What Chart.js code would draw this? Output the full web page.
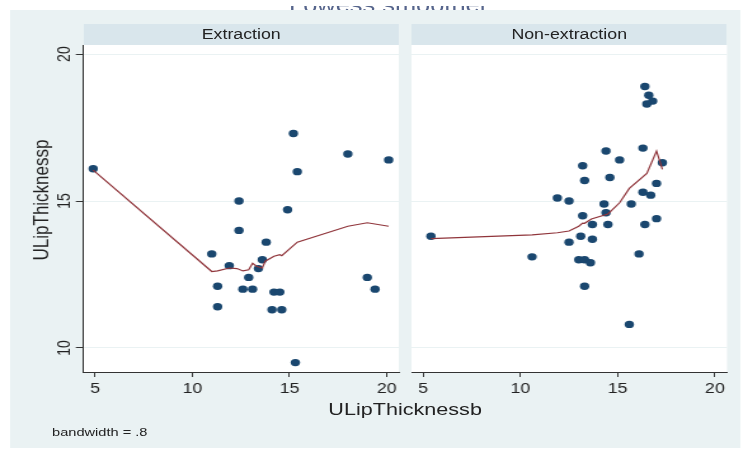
<!DOCTYPE html>
<html>
<head>
<meta charset="utf-8">
<script src="https://cdn.jsdelivr.net/npm/chart.js@4/dist/chart.umd.min.js"></script>
<style>
  html, body { margin: 0; padding: 0; background: #fff; }
  body { width: 741px; height: 450px; overflow: hidden; position: relative; font-family: "Liberation Sans", Arial, sans-serif; }
  /* the reference picture is stretched sideways, so the whole graph is drawn narrow and widened */
  #wrap { position: absolute; left: 0; top: 0; width: 584px; height: 450px; transform: scaleX(1.27); transform-origin: 0 0; }
  .abs { position: absolute; }
  /* only the lower edge of the title shows in the reference */
  #titleBox { left: 0; top: 6px; width: 600px; height: 4px; overflow: hidden; }
  #title { left: 0; width: 612px; top: -11px; text-align: center; font-size: 20px; line-height: 20px; color: #56658c; }
  #bg { left: 8px; top: 10px; width: 575px; height: 438px; background: #eaf2f3; }
  .strip { top: 24px; height: 21px; background: #d9e6ec; text-align: center; font-size: 14px; line-height: 21px; color: #222; }
  #xtitle { left: 219px; width: 200px; top: 400px; text-align: center; font-size: 17px; line-height: 20px; color: #222; }
  #note { left: 41px; top: 425px; font-size: 11.5px; line-height: 14px; color: #222; }
  canvas { position: absolute; }
</style>
</head>
<body>
<div id="wrap">
  <div id="titleBox" class="abs"><div id="title" class="abs">Lowess smoother</div></div>
  <div id="bg" class="abs"></div>
  <div id="strip0" class="abs strip" style="left:65.7px;width:248.5px;"></div>
  <div id="strip1" class="abs strip" style="left:324px;width:248.4px;"></div>
  <canvas id="left" width="318" height="400" style="left:0;top:41px;width:318px;height:400px;"></canvas>
  <canvas id="right" width="260" height="400" style="left:318px;top:41px;width:260px;height:400px;"></canvas>
  <div id="xtitle" class="abs">ULipThicknessb</div>
  <div id="note" class="abs">bandwidth = .8</div>
</div>
<script>
// panels
var panels = ["Extraction", "Non-extraction"];
var xTicks = [5, 10, 15, 20];
var yTicks = [10, 15, 20];
var yTitle = "ULipThicknessp";

// Extraction: points
var extrX = [4.9, 15.2, 18.0, 20.1, 15.4, 12.4, 14.9, 12.4, 13.8, 11.0, 13.6, 11.9, 13.4,
             12.9, 11.3, 12.6, 13.1, 14.2, 14.5, 19.0, 19.4, 11.3, 14.1, 14.6, 15.3];
var extrY = [16.1, 17.3, 16.6, 16.4, 16.0, 15.0, 14.7, 14.0, 13.6, 13.2, 13.0, 12.8, 12.7,
             12.4, 12.1, 12.0, 12.0, 11.9, 11.9, 12.4, 12.0, 11.4, 11.3, 11.3, 9.5];
// Extraction: lowess curve
var extrFitX = [4.9, 11.0, 11.3, 11.9, 12.3, 12.6, 12.9, 13.1, 13.3, 13.6, 13.75, 14.2, 14.5, 14.6, 15.4, 18.0, 19.0, 20.1];
var extrFitY = [16.05, 12.6, 12.62, 12.72, 12.7, 12.62, 12.66, 12.88, 12.78, 12.72, 12.95, 13.12, 13.17, 13.14, 13.6, 14.14, 14.26, 14.14];

// Non-extraction: points
var nonX = [5.4, 16.4, 16.6, 16.8, 16.5, 16.3, 14.4, 15.1, 17.3, 13.2, 13.3, 14.6, 17.0, 16.3, 16.7, 11.9, 12.5, 14.3,
            15.7, 14.4, 13.2, 13.7, 14.5, 16.4, 17.0, 13.1, 12.5, 13.7, 10.6, 13.0, 13.3, 13.6, 16.1, 13.3, 15.6];
var nonY = [13.8, 18.9, 18.6, 18.4, 18.3, 16.8, 16.7, 16.4, 16.3, 16.2, 15.7, 15.8, 15.6, 15.3, 15.2, 15.1, 15.0, 14.9,
            14.9, 14.6, 14.5, 14.2, 14.2, 14.2, 14.4, 13.8, 13.6, 13.7, 13.1, 13.0, 13.0, 12.9, 13.2, 12.1, 10.8];
// Non-extraction: lowess curve
var nonFitX = [5.4, 10.6, 11.9, 12.5, 13.0, 13.2, 13.3, 13.65, 14.5, 15.1, 15.6, 16.5, 17.0, 17.3];
var nonFitY = [13.72, 13.85, 13.92, 13.98, 14.14, 14.25, 14.24, 14.39, 14.56, 14.94, 15.43, 15.94, 16.7, 16.08];

var FONT = '"Liberation Sans", Arial, sans-serif';
var navy = "#1a476f";
var maroon = "#90353b";

document.getElementById("strip0").textContent = panels[0];
document.getElementById("strip1").textContent = panels[1];

function pts(xs, ys) {
    return xs.map(function (x, i) { return {x: x, y: ys[i]}; });
}

// white plot region
var plotBg = {
    id: "plotBg",
    beforeDraw: function (chart) {
        var a = chart.chartArea, ctx = chart.ctx;
        ctx.save();
        ctx.fillStyle = "#fff";
        ctx.fillRect(a.left, a.top, a.right - a.left, a.bottom - a.top);
        ctx.restore();
    }
};

// Stata-style vertical y labels and title
var yLabels = {
    id: "yLabels",
    afterDraw: function (chart) {
        var ctx = chart.ctx, sc = chart.scales.y;
        ctx.save();
        ctx.fillStyle = "#222";
        ctx.textAlign = "center";
        ctx.textBaseline = "middle";
        ctx.font = "14px " + FONT;
        yTicks.forEach(function (v) {
            ctx.save();
            ctx.translate(51.5, sc.getPixelForValue(v));
            ctx.rotate(-Math.PI / 2);
            ctx.fillText(String(v), 0, 0);
            ctx.restore();
        });
        ctx.font = "17px " + FONT;
        ctx.translate(33, 159);
        ctx.rotate(-Math.PI / 2);
        ctx.fillText(yTitle, 0, 0);
        ctx.restore();
    }
};

function makeChart(id, xs, ys, fx, fy, isLeft) {
    var ctx = document.getElementById(id).getContext("2d");
    return new Chart(ctx, {
        type: "scatter",
        data: {
            datasets: [{
                data: pts(fx, fy),
                showLine: true,
                borderColor: maroon,
                borderWidth: 1.2,
                pointRadius: 0,
                tension: 0,
                order: 0
            }, {
                data: pts(xs, ys),
                backgroundColor: navy,
                borderColor: navy,
                borderWidth: 0,
                pointRadius: 3.7,
                order: 1
            }]
        },
        options: {
            responsive: false,
            animation: false,
            events: [],
            layout: {padding: {left: 0, top: 0, bottom: 0, right: isLeft ? 1.8 : 5.6}},
            plugins: {legend: {display: false}, tooltip: {enabled: false}},
            scales: {
                x: {
                    type: "linear",
                    min: 4.4,
                    max: 20.62,
                    afterBuildTicks: function (s) { s.ticks = xTicks.map(function (v) { return {value: v}; }); },
                    afterFit: function (s) { s.height = 69; },
                    grid: {drawOnChartArea: false, drawTicks: true, tickLength: 5, tickColor: "#333"},
                    border: {display: true, color: "#333", width: 1},
                    ticks: {font: {family: FONT, size: 14}, color: "#222", padding: 4, maxRotation: 0, autoSkip: false}
                },
                y: {
                    type: "linear",
                    min: 9.18,
                    max: 20.31,
                    afterBuildTicks: function (s) { s.ticks = yTicks.map(function (v) { return {value: v}; }); },
                    afterFit: function (s) { s.width = isLeft ? 65.7 : 6; },
                    grid: {color: "#eaf2f3", lineWidth: 1, drawTicks: isLeft, tickLength: 6, tickColor: "#333"},
                    border: {display: isLeft, color: "#333", width: 1},
                    ticks: {display: false}
                }
            }
        },
        plugins: isLeft ? [plotBg, yLabels] : [plotBg]
    });
}

makeChart("left", extrX, extrY, extrFitX, extrFitY, true);
makeChart("right", nonX, nonY, nonFitX, nonFitY, false);
</script>
</body>
</html>
